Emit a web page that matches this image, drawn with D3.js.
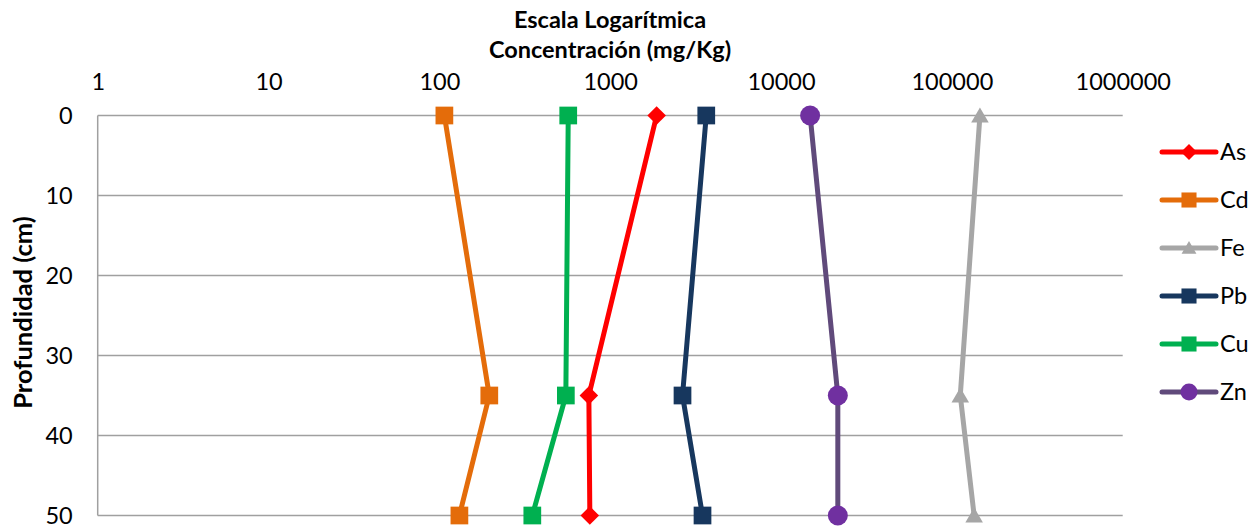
<!DOCTYPE html>
<html>
<head>
<meta charset="utf-8">
<script src="https://cdn.jsdelivr.net/npm/d3@7"></script>
<style>
  html, body { margin: 0; padding: 0; background: #fff; }
  svg { display: block; font-family: Lato, "Open Sans", sans-serif; }
</style>
</head>
<body>
<svg id="chart" width="1258" height="527"></svg>
<script>
// Depth profile of metal concentrations (mg/Kg, log scale)
const depths = [0, 35, 50];
const seriesNames = ["As", "Cd", "Fe", "Pb", "Cu", "Zn"];
const asValues = [1870, 750, 760];
const cdValues = [107, 196, 131];
const feValues = [146000, 112000, 135000];
const pbValues = [3650, 2650, 3470];
const cuValues = [568, 550, 350];
const znValues = [14800, 21500, 21500];
const xTickValues = [1, 10, 100, 1000, 10000, 100000, 1000000];
const yTickValues = [0, 10, 20, 30, 40, 50];

const series = [
  { name: "As", values: asValues, line: "#ff0000", fill: "#ff0000", symbol: "diamond" },
  { name: "Cd", values: cdValues, line: "#e46c0a", fill: "#e46c0a", symbol: "square" },
  { name: "Fe", values: feValues, line: "#a6a6a6", fill: "#a6a6a6", symbol: "triangle" },
  { name: "Pb", values: pbValues, line: "#17375e", fill: "#17375e", symbol: "square" },
  { name: "Cu", values: cuValues, line: "#00b050", fill: "#00b050", symbol: "square" },
  { name: "Zn", values: znValues, line: "#604a7b", fill: "#7030a0", symbol: "circle" }
];

const svg = d3.select("#chart");
const plot = { left: 97.7, right: 1122.7, top: 115.5, bottom: 515.5 };

const x = d3.scaleLog().domain([1, 1000000]).range([plot.left, plot.right]);
const y = d3.scaleLinear().domain([0, 50]).range([plot.top, plot.bottom]);

const tickFont = 23.5;
const titleFont = 23.5;

// Horizontal gridlines
svg.append("g")
  .selectAll("line")
  .data(yTickValues)
  .join("line")
  .attr("x1", plot.left).attr("x2", plot.right)
  .attr("y1", d => y(d)).attr("y2", d => y(d))
  .attr("stroke", "#a0a0a0").attr("stroke-width", 1.5);

// Left axis line
svg.append("line")
  .attr("x1", plot.left).attr("x2", plot.left)
  .attr("y1", plot.top).attr("y2", plot.bottom)
  .attr("stroke", "#a0a0a0").attr("stroke-width", 1.5);

// Top (x) axis labels
const xAxis = d3.axisTop(x).tickValues(xTickValues).tickFormat(d3.format("d")).tickSize(0).tickPadding(0);
const gx = svg.append("g").attr("transform", `translate(0, ${plot.top - 26})`).call(xAxis);
gx.select(".domain").remove();
gx.selectAll("text").attr("font-size", tickFont).attr("fill", "#000").attr("font-family", "Lato, sans-serif").attr("dy", 0);

// Left (y) axis labels
const yAxis = d3.axisLeft(y).tickValues(yTickValues).tickSize(0).tickPadding(0);
const gy = svg.append("g").attr("transform", `translate(${plot.left - 25}, 0)`).call(yAxis);
gy.select(".domain").remove();
gy.selectAll("text").attr("font-size", tickFont).attr("fill", "#000").attr("font-family", "Lato, sans-serif").attr("dy", "0.33em");

// Titles
svg.append("text").attr("x", 610).attr("y", 28).attr("text-anchor", "middle")
  .attr("font-size", titleFont).attr("font-weight", "bold").text("Escala Logarítmica");
svg.append("text").attr("x", 610).attr("y", 58).attr("text-anchor", "middle")
  .attr("font-size", titleFont).attr("font-weight", "bold").text("Concentración (mg/Kg)");
svg.append("text")
  .attr("transform", `translate(32, ${(plot.top + plot.bottom) / 2 - 3}) rotate(-90)`)
  .attr("text-anchor", "middle")
  .attr("font-size", 25.5).attr("font-weight", "bold").text("Profundidad (cm)");

const symbolTypes = {
  diamond: d3.symbolDiamond2,
  square: d3.symbolSquare2,
  triangle: d3.symbolTriangle2,
  circle: d3.symbolCircle
};
function markerPath(kind, size) {
  // size is the approximate width in pixels
  const areas = { diamond: size * size / 2, square: size * size, triangle: size * size * 0.55, circle: Math.PI * (size / 2) * (size / 2) };
  return d3.symbol().type(symbolTypes[kind]).size(areas[kind])();
}

const line = d3.line().x(d => x(d.v)).y(d => y(d.depth));

series.forEach(s => {
  const pts = s.values.map((v, i) => ({ v, depth: depths[i] }));
  const g = svg.append("g");
  g.append("path").datum(pts).attr("d", line)
    .attr("fill", "none").attr("stroke", s.line).attr("stroke-width", 5)
    .attr("stroke-linejoin", "round").attr("stroke-linecap", "round");
  g.selectAll("path.m").data(pts).join("path").attr("class", "m")
    .attr("d", markerPath(s.symbol, s.symbol === "diamond" ? 21 : 20))
    .attr("transform", d => `translate(${x(d.v)}, ${y(d.depth) + (s.symbol === "triangle" ? 2 : 0)})`)
    .attr("fill", s.fill);
});

// Legend
const legend = svg.append("g");
series.forEach((s, i) => {
  const cy = 152 + i * 48;
  legend.append("line").attr("x1", 1162).attr("x2", 1216).attr("y1", cy).attr("y2", cy)
    .attr("stroke", s.line).attr("stroke-width", 5).attr("stroke-linecap", "round");
  legend.append("path").attr("d", markerPath(s.symbol, s.symbol === "diamond" ? 18 : 17))
    .attr("transform", `translate(1189, ${cy + (s.symbol === "triangle" ? 1.5 : 0)})`)
    .attr("fill", s.fill);
  legend.append("text").attr("x", 1220).attr("y", cy).attr("dy", "0.35em")
    .attr("font-size", tickFont).attr("fill", "#000").text(s.name);
});
</script>
</body>
</html>
